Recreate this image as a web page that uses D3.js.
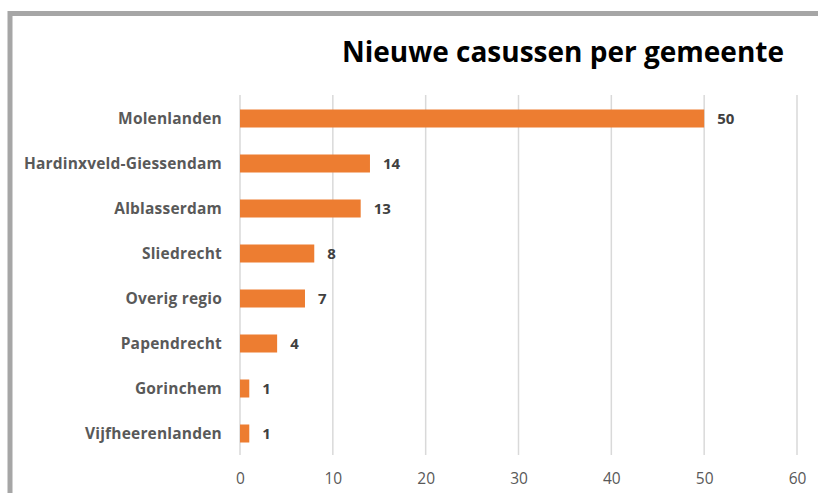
<!DOCTYPE html>
<html>
<head>
<meta charset="utf-8">
<script src="https://cdn.jsdelivr.net/npm/d3@7"></script>
<style>
  body { margin: 0; background: #fff; }
  text { font-family: "Open Sans", sans-serif; }
</style>
</head>
<body>
<svg id="chart" width="818" height="493"></svg>
<script>
// gemeenten en aantallen
var gemeenten = ["Molenlanden", "Hardinxveld-Giessendam", "Alblasserdam", "Sliedrecht",
                 "Overig regio", "Papendrecht", "Gorinchem", "Vijfheerenlanden"];
var casussen = [50, 14, 13, 8, 7, 4, 1, 1];
var xTicks = [0, 10, 20, 30, 40, 50, 60];

var data = gemeenten.map(function(g, i) { return {name: g, value: casussen[i]}; });

var svg = d3.select("#chart");

// grijze rand links en boven
svg.append("path")
    .attr("d", "M10,493 L10,13.5 L818,13.5")
    .attr("fill", "none")
    .attr("stroke", "#a6a6a6")
    .attr("stroke-width", 5);

var x = d3.scaleLinear().domain([0, 60]).range([240, 797]);
var y = d3.scaleBand().domain(gemeenten).range([96, 456]).paddingInner(0.6).paddingOuter(0.3);

// gridlines
svg.append("g")
  .selectAll("line")
  .data(xTicks)
  .enter().append("line")
    .attr("x1", function(d) { return x(d); })
    .attr("x2", function(d) { return x(d); })
    .attr("y1", 95)
    .attr("y2", 455)
    .attr("stroke", "#d9d9d9")
    .attr("stroke-width", 1.5);

// x axis labels
var xAxis = svg.append("g")
    .attr("transform", "translate(0,455)")
    .call(d3.axisBottom(x).tickValues(xTicks).tickSize(0).tickPadding(18));
xAxis.select(".domain").remove();
xAxis.selectAll("text")
    .attr("font-family", "'Open Sans', sans-serif")
    .attr("font-size", "15.5px")
    .attr("fill", "#595959");

// bars
svg.append("g")
  .selectAll("rect")
  .data(data)
  .enter().append("rect")
    .attr("x", x(0))
    .attr("y", function(d) { return y(d.name); })
    .attr("width", function(d) { return x(d.value) - x(0); })
    .attr("height", y.bandwidth())
    .attr("fill", "#ed7d31");

// category labels
svg.append("g")
  .selectAll("text")
  .data(data)
  .enter().append("text")
    .attr("x", 222)
    .attr("y", function(d) { return y(d.name) + y.bandwidth() / 2; })
    .attr("dy", "0.35em")
    .attr("text-anchor", "end")
    .attr("font-size", "15.5px")
    .attr("letter-spacing", "0.2px")
    .attr("font-weight", "bold")
    .attr("fill", "#595959")
    .text(function(d) { return d.name; });

// value labels
svg.append("g")
  .selectAll("text")
  .data(data)
  .enter().append("text")
    .attr("x", function(d) { return x(d.value) + 13; })
    .attr("y", function(d) { return y(d.name) + y.bandwidth() / 2; })
    .attr("dy", "0.35em")
    .attr("font-size", "15px")
    .attr("font-weight", "bold")
    .attr("fill", "#404040")
    .text(function(d) { return d.value; });

// title
svg.append("text")
    .attr("x", 784)
    .attr("y", 62)
    .attr("text-anchor", "end")
    .attr("font-size", "28px")
    .attr("font-weight", "bold")
    .attr("fill", "#000")
    .text("Nieuwe casussen per gemeente");
</script>
</body>
</html>
